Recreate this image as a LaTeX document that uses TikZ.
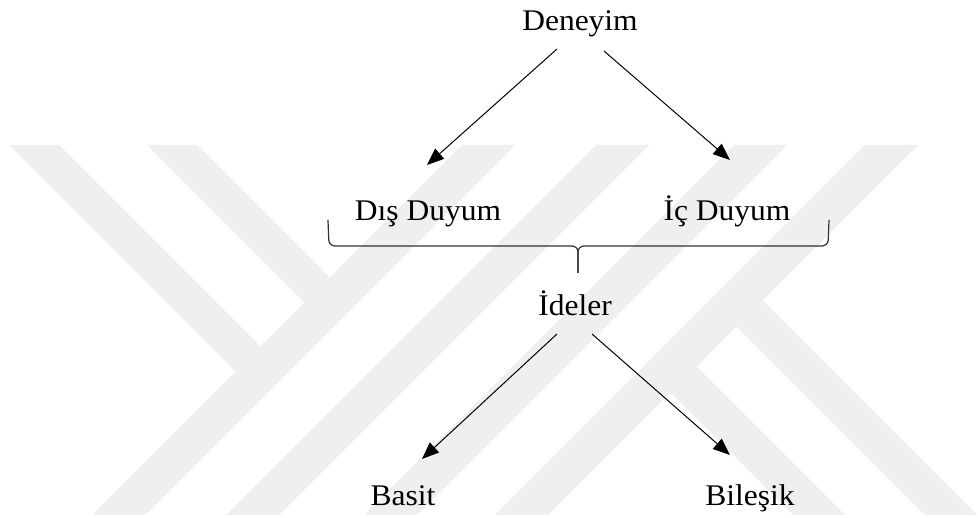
\documentclass[tikz,border=0pt]{standalone}
\usepackage{fontspec}
\setmainfont{Liberation Serif}
\usetikzlibrary{arrows.meta}
\definecolor{wm}{RGB}{239,239,239}
\definecolor{brc}{RGB}{50,50,50}
\newcommand{\wx}[1]{\scalebox{1.05}[1]{#1}}
\begin{document}
\begin{tikzpicture}[x=1pt,y=-1pt,
  lbl/.style={anchor=base,inner sep=0pt,font=\fontsize{30}{35}\selectfont},
  arr/.style={line width=1pt,-{Triangle[length=17pt,width=13.5pt]}},
  bracepath/.style={line width=1.2pt,draw=brc,rounded corners=6pt},
  band/.style={fill=wm,draw=none}]
\useasboundingbox (0,0) rectangle (978,518);
\fill[white] (0,0) rectangle (978,518);
% watermark
\path[band] (462,145) -- (515,145) -- (145,515) -- (92,515) -- cycle;
\path[band] (596,145) -- (649,145) -- (279,515) -- (226,515) -- cycle;
\path[band] (734,145) -- (787,145) -- (417,515) -- (364,515) -- cycle;
\path[band] (865,145) -- (918,145) -- (548,515) -- (495,515) -- cycle;
\path[band] (9,145) -- (59,145) -- (260.5,346.5) -- (235.5,371.5) -- cycle;
\path[band] (147,145) -- (197,145) -- (329.5,277.5) -- (304.5,302.5) -- cycle;
\path[band] (762.5,300.5) -- (977,515) -- (925,515) -- (736.5,326.5) -- cycle;
\path[band] (696.5,366.5) -- (845,515) -- (793,515) -- (670.5,392.5) -- cycle;
% nodes
\node[lbl] (den) at (580,31) {\wx{Deneyim}};
\node[lbl] (dis) at (428,221) {\wx{Dış Duyum}};
\node[lbl] (ic) at (727,221) {\wx{İç Duyum}};
\node[lbl] (ide) at (575,316) {\wx{İdeler}};
\node[lbl] (bas) at (403,506) {\wx{Basit}};
\node[lbl] (bil) at (750,506) {\wx{Bileşik}};
% arrows
\draw[arr] ([xshift=-23pt,yshift=-18pt]den.base) -- ([xshift=-1pt,yshift=56pt]dis.base);
\draw[arr] ([xshift=24pt,yshift=-20pt]den.base) -- ([xshift=3pt,yshift=61pt]ic.base);
\draw[arr] ([xshift=-18pt,yshift=-18pt]ide.base) -- ([xshift=19pt,yshift=47pt]bas.base);
\draw[arr] ([xshift=17pt,yshift=-18pt]ide.base) -- ([xshift=-20pt,yshift=51pt]bil.base);
% brace
\coordinate (bl) at (328,220);
\coordinate (br) at (829,220);
\coordinate (bm) at (578,246);
\coordinate (bs) at (578,273);
\draw[bracepath] (bl) -- (329,246) -- (bm) -- (bs);
\draw[bracepath] (br) -- (828,246) -- (bm) -- (bs);
\end{tikzpicture}
\end{document}
